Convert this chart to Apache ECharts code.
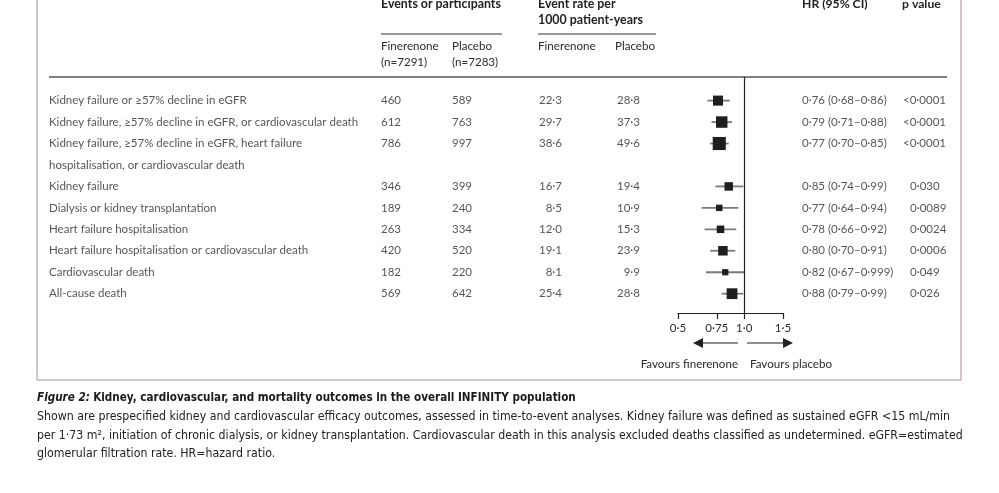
<!DOCTYPE html>
<html lang="en">
  <head>
    <meta charset="UTF-8" />
    <title>Figure 2</title>
    <script src="https://cdn.jsdelivr.net/npm/echarts@6/dist/echarts.min.js"></script>
    <style>
      html, body { margin: 0; padding: 0; background: #fff; }
      #main { width: 999px; height: 493px; }
    </style>
  </head>
  <body>
    <div id="main"></div>
    <script type="text/javascript">
      // outcomes (row 3 wraps onto a second line)
      var outcomes = [
        "Kidney failure or \u226557% decline in eGFR",
        "Kidney failure, \u226557% decline in eGFR, or cardiovascular death",
        "Kidney failure, \u226557% decline in eGFR, heart failure\nhospitalisation, or cardiovascular death",
        "Kidney failure",
        "Dialysis or kidney transplantation",
        "Heart failure hospitalisation",
        "Heart failure hospitalisation or cardiovascular death",
        "Cardiovascular death",
        "All-cause death"
      ];
      var eventsFin = [460, 612, 786, 346, 189, 263, 420, 182, 569];
      var eventsPla = [589, 763, 997, 399, 240, 334, 520, 220, 642];
      var rateFin = [22.3, 29.7, 38.6, 16.7, 8.5, 12.0, 19.1, 8.1, 25.4];
      var ratePla = [28.8, 37.3, 49.6, 19.4, 10.9, 15.3, 23.9, 9.9, 28.8];
      var hr = [0.76, 0.79, 0.77, 0.85, 0.77, 0.78, 0.8, 0.82, 0.88];
      var hrLow = [0.68, 0.71, 0.7, 0.74, 0.64, 0.66, 0.7, 0.67, 0.79];
      var hrHigh = [0.86, 0.88, 0.85, 0.99, 0.94, 0.92, 0.91, 0.999, 0.99];
      var pValues = ["<0\u00b70001", "<0\u00b70001", "<0\u00b70001", "0\u00b7030", "0\u00b70089",
        "0\u00b70024", "0\u00b70006", "0\u00b7049", "0\u00b7026"];
      var axisTicks = [0.5, 0.75, 1, 1.5];

      // row slot of each outcome (slot 3 is the wrapped line)
      var rowSlot = [0, 1, 2, 4, 5, 6, 7, 8, 9];

      var FONT = "Lato";
      var CAP = "'Liberation Sans Narrow', 'DejaVu Sans Condensed', Lato";
      var TXT = "#2b2b2b";
      var LH = 21.45;

      function dot(s) { return String(s).replace(".", "\u00b7"); }
      function fmtHr(v) {
        var dec = (String(v).split(".")[1] || "").length;
        return dot(v.toFixed(Math.max(2, dec)));
      }

      // x positions of the text columns (pixels, table grid runs 0..999)
      var COL = { label: 49, evFin: 381, evPla: 452, rtFin: 562, rtPla: 640, hr: 802, p: 910 };

      function textSeries(name, values, x, align, shift) {
        return {
          name: name,
          type: "scatter",
          xAxisIndex: 1,
          yAxisIndex: 1,
          symbolSize: 0,
          silent: true,
          clip: false,
          data: values.map(function (v, i) {
            var dx = shift ? shift(v) : 0;
            return { value: [x + dx, rowSlot[i]], txt: String(v) };
          }),
          label: {
            show: true,
            position: [0, -LH / 2],
            align: align,
            verticalAlign: "top",
            lineHeight: LH,
            fontFamily: FONT,
            fontSize: 11.5,
            color: TXT,
            formatter: function (p) { return p.data.txt; }
          }
        };
      }

      var forestData = hr.map(function (v, i) {
        return [v, rowSlot[i], hrLow[i], hrHigh[i], eventsFin[i] + eventsPla[i]];
      });

      var myChart = echarts.init(document.getElementById("main"), null, { renderer: "canvas" });

      var option = {
        backgroundColor: "#fff",
        animation: false,
        grid: [
          { left: 678, width: 105, top: 77, height: 236 },
          { left: 0, width: 999, top: 77, height: 236 }
        ],
        xAxis: [
          {
            type: "log",
            gridIndex: 0,
            min: 0.5,
            max: 1.5,
            axisLine: { show: true, onZero: false, lineStyle: { color: "#222", width: 1.2 } },
            axisTick: { show: true, length: 6, customValues: axisTicks, lineStyle: { color: "#222", width: 1.2 } },
            axisLabel: {
              show: true,
              customValues: axisTicks,
              margin: 9,
              fontFamily: FONT,
              fontSize: 11.5,
              color: TXT,
              formatter: function (v) { return v === 1 ? "1\u00b70" : dot(v); }
            },
            splitLine: { show: false }
          },
          { type: "value", gridIndex: 1, min: 0, max: 999, show: false }
        ],
        yAxis: [
          { type: "value", gridIndex: 0, inverse: true, min: -1.1, max: 9.9, show: false },
          { type: "value", gridIndex: 1, inverse: true, min: -1.1, max: 9.9, show: false }
        ],
        series: [
          {
            name: "HR",
            type: "custom",
            xAxisIndex: 0,
            yAxisIndex: 0,
            clip: false,
            data: forestData,
            renderItem: function (params, api) {
              var c = api.coord([api.value(0), api.value(1)]);
              var lo = api.coord([api.value(2), api.value(1)]);
              var hi = api.coord([api.value(3), api.value(1)]);
              var s = 3.1 * Math.sqrt(api.value(4) / 100);
              return {
                type: "group",
                children: [
                  {
                    type: "line",
                    shape: { x1: lo[0], y1: c[1], x2: hi[0], y2: c[1] },
                    style: { stroke: "#7a7a7a", lineWidth: 1.8 }
                  },
                  {
                    type: "rect",
                    shape: { x: c[0] - s / 2, y: c[1] - s / 2, width: s, height: s },
                    style: { fill: "#1e1e1e" }
                  }
                ]
              };
            },
            markLine: {
              silent: true,
              symbol: "none",
              label: { show: false },
              lineStyle: { color: "#222", width: 1.2, type: "solid" },
              data: [{ xAxis: 1 }]
            }
          },
          textSeries("outcome", outcomes, COL.label, "left"),
          textSeries("eventsFin", eventsFin, COL.evFin, "left"),
          textSeries("eventsPla", eventsPla, COL.evPla, "left"),
          textSeries("rateFin", rateFin.map(function (v) { return dot(v.toFixed(1)); }), COL.rtFin, "right"),
          textSeries("ratePla", ratePla.map(function (v) { return dot(v.toFixed(1)); }), COL.rtPla, "right"),
          textSeries("hrText", hr.map(function (v, i) {
            return fmtHr(v) + " (" + fmtHr(hrLow[i]) + "\u2013" + fmtHr(hrHigh[i]) + ")";
          }), COL.hr, "left"),
          textSeries("p", pValues, COL.p, "left", function (v) { return v.charAt(0) === "<" ? -7 : 0; })
        ],
        graphic: [
          // panel border
          { type: "rect", shape: { x: 37, y: -10, width: 924, height: 390 }, style: { fill: "none", stroke: "#a68c99", lineWidth: 1 }, silent: true },
          // header
          { type: "text", x: 381, y: 4, style: { text: "Events or participants", font: "bold 12.4px " + FONT, fill: "#222", verticalAlign: "middle" } },
          { type: "text", x: 538, y: 12, style: { text: "Event rate per\n1000 patient-years", font: "bold 12.4px " + FONT, lineHeight: 16, fill: "#222", verticalAlign: "middle" } },
          { type: "text", x: 802, y: 4, style: { text: "HR (95% CI)", font: "bold 12.2px " + FONT, fill: "#222", verticalAlign: "middle" } },
          { type: "text", x: 902, y: 4, style: { text: "p value", font: "bold 12.2px " + FONT, fill: "#222", verticalAlign: "middle" } },
          { type: "line", shape: { x1: 381, y1: 34, x2: 502, y2: 34 }, style: { stroke: "#333", lineWidth: 1 } },
          { type: "line", shape: { x1: 538, y1: 34, x2: 656, y2: 34 }, style: { stroke: "#333", lineWidth: 1 } },
          { type: "text", x: 381, y: 54, style: { text: "Finerenone\n(n=7291)", font: "11.6px " + FONT, lineHeight: 16, fill: TXT, verticalAlign: "middle" } },
          { type: "text", x: 452, y: 54, style: { text: "Placebo\n(n=7283)", font: "11.6px " + FONT, lineHeight: 16, fill: TXT, verticalAlign: "middle" } },
          { type: "text", x: 538, y: 46, style: { text: "Finerenone", font: "11.6px " + FONT, fill: TXT, verticalAlign: "middle" } },
          { type: "text", x: 615, y: 46, style: { text: "Placebo", font: "11.6px " + FONT, fill: TXT, verticalAlign: "middle" } },
          { type: "line", shape: { x1: 49, y1: 77, x2: 947, y2: 77 }, style: { stroke: "#555", lineWidth: 1.5 } },
          // favours arrows
          { type: "polyline", shape: { points: [[738, 343], [699, 343]] }, style: { stroke: "#222", lineWidth: 1.2 } },
          { type: "polygon", shape: { points: [[693, 343], [703, 338], [703, 348]] }, style: { fill: "#222" } },
          { type: "polyline", shape: { points: [[747, 343], [787, 343]] }, style: { stroke: "#222", lineWidth: 1.2 } },
          { type: "polygon", shape: { points: [[793, 343], [783, 338], [783, 348]] }, style: { fill: "#222" } },
          { type: "text", x: 738, y: 364, style: { text: "Favours finerenone", font: "11.6px " + FONT, fill: TXT, align: "right", verticalAlign: "middle" } },
          { type: "text", x: 750, y: 364, style: { text: "Favours placebo", font: "11.6px " + FONT, fill: TXT, verticalAlign: "middle" } },
          // caption
          {
            type: "text", x: 37, y: 398,
            style: {
              rich: {
                it: { fontFamily: CAP, fontStyle: "italic", fontWeight: "bold", fontSize: 11.6, fill: "#1a1a1a" },
                b: { fontFamily: CAP, fontWeight: "bold", fontSize: 11.6, fill: "#1a1a1a" }
              },
              text: "{it|Figure 2:} {b|Kidney, cardiovascular, and mortality outcomes in the overall INFINITY population}",
              verticalAlign: "middle"
            }
          },
          {
            type: "text", x: 37, y: 408,
            style: {
              text: "Shown are prespecified kidney and cardiovascular efficacy outcomes, assessed in time-to-event analyses. Kidney failure was defined as sustained eGFR <15 mL/min\nper 1\u00b773 m\u00b2, initiation of chronic dialysis, or kidney transplantation. Cardiovascular death in this analysis excluded deaths classified as undetermined. eGFR=estimated\nglomerular filtration rate. HR=hazard ratio.",
              fontFamily: CAP,
              fontSize: 12.25,
              lineHeight: 18.3,
              fill: "#222",
              verticalAlign: "top"
            }
          }
        ]
      };

      myChart.setOption(option);
    </script>
  </body>
</html>
